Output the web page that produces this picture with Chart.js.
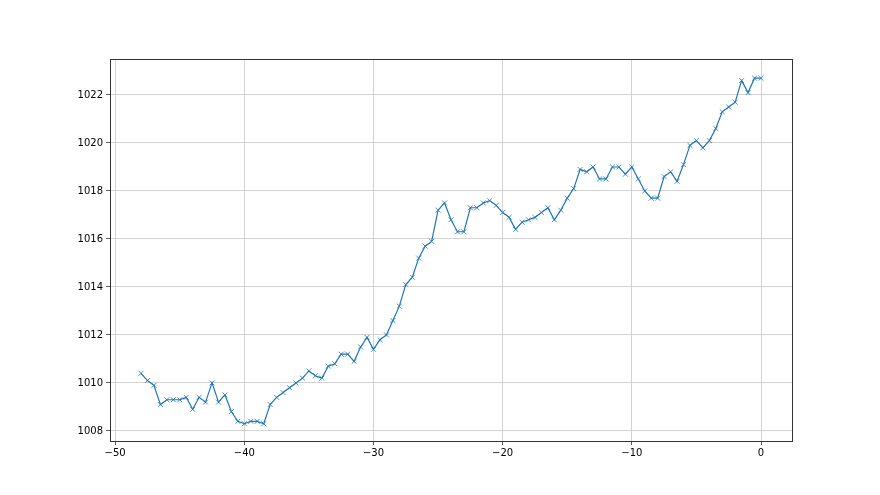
<!DOCTYPE html>
<html>
<head>
<meta charset="utf-8">
<script src="https://cdn.jsdelivr.net/npm/chart.js@4"></script>
<style>
  html, body { margin: 0; padding: 0; background: #fff; }
  #wrap { width: 880px; height: 495px; }
</style>
</head>
<body>
<div id="wrap"><canvas id="myChart" width="880" height="495"></canvas></div>
<script>
// hours relative to now
const hours = [
  -48, -47.5, -47, -46.5, -46, -45.5, -45, -44.5, -44, -43.5,
  -43, -42.5, -42, -41.5, -41, -40.5, -40, -39.5, -39, -38.5,
  -38, -37.5, -37, -36.5, -36, -35.5, -35, -34.5, -34, -33.5,
  -33, -32.5, -32, -31.5, -31, -30.5, -30, -29.5, -29, -28.5,
  -28, -27.5, -27, -26.5, -26, -25.5, -25, -24.5, -24, -23.5,
  -23, -22.5, -22, -21.5, -21, -20.5, -20, -19.5, -19, -18.5,
  -18, -17.5, -17, -16.5, -16, -15.5, -15, -14.5, -14, -13.5,
  -13, -12.5, -12, -11.5, -11, -10.5, -10, -9.5, -9, -8.5,
  -8, -7.5, -7, -6.5, -6, -5.5, -5, -4.5, -4, -3.5,
  -3, -2.5, -2, -1.5, -1, -0.5, 0
];
// pressure (hPa)
const pressure = [
  1010.4, 1010.1, 1009.9, 1009.1, 1009.3, 1009.3, 1009.3, 1009.4, 1008.9, 1009.4,
  1009.2, 1010.0, 1009.2, 1009.5, 1008.8, 1008.4, 1008.3, 1008.4, 1008.4, 1008.3,
  1009.1, 1009.4, 1009.6, 1009.8, 1010.0, 1010.2, 1010.5, 1010.3, 1010.2, 1010.7,
  1010.8, 1011.2, 1011.2, 1010.9, 1011.5, 1011.9, 1011.4, 1011.8, 1012.0, 1012.6,
  1013.2, 1014.1, 1014.4, 1015.2, 1015.7, 1015.9, 1017.2, 1017.5, 1016.8, 1016.3,
  1016.3, 1017.3, 1017.3, 1017.5, 1017.6, 1017.4, 1017.1, 1016.9, 1016.4, 1016.7,
  1016.8, 1016.9, 1017.1, 1017.3, 1016.8, 1017.2, 1017.7, 1018.1, 1018.9, 1018.8,
  1019.0, 1018.5, 1018.5, 1019.0, 1019.0, 1018.7, 1019.0, 1018.5, 1018.0, 1017.7,
  1017.7, 1018.6, 1018.8, 1018.4, 1019.1, 1019.9, 1020.1, 1019.8, 1020.1, 1020.6,
  1021.3, 1021.5, 1021.7, 1022.6, 1022.1, 1022.7, 1022.7
];
const xTicks = [-50, -40, -30, -20, -10, 0];
const yTicks = [1008, 1010, 1012, 1014, 1016, 1018, 1020, 1022];

const blue = '#1f77b4';
const points = hours.map((h, i) => ({ x: h, y: pressure[i] }));

// box around the plot area (matplotlib spines)
const frame = {
  id: 'frame',
  afterDraw(chart) {
    const a = chart.chartArea;
    const c = chart.ctx;
    c.save();
    c.strokeStyle = '#333';
    c.lineWidth = 1;
    c.strokeRect(Math.round(a.left) + 0.5, Math.round(a.top) + 0.5,
      Math.round(a.right - a.left), Math.round(a.bottom - a.top));
    c.restore();
  }
};

const minus = v => String(v).replace('-', '\u2212');

new Chart(document.getElementById('myChart'), {
  type: 'line',
  data: {
    datasets: [{
      data: points,
      borderColor: blue,
      backgroundColor: blue,
      borderWidth: 1.2,
      pointStyle: 'crossRot',
      pointRadius: 3.5,
      pointBorderWidth: 0.8,
      pointBorderColor: blue,
      tension: 0,
      fill: false
    }]
  },
  options: {
    responsive: false,
    animation: false,
    layout: { padding: { left: 0, right: 88, top: 59, bottom: 0 } },
    plugins: { legend: { display: false }, tooltip: { enabled: false } },
    scales: {
      x: {
        type: 'linear',
        min: -50.4,
        max: 2.4,
        afterBuildTicks: s => { s.ticks = xTicks.map(v => ({ value: v })); },
        afterFit: s => { s.height = 54; },
        grid: { color: '#c8c8c8', lineWidth: 0.8, tickColor: '#333', tickLength: 4 },
        border: { color: '#333' },
        ticks: {
          color: '#000',
          padding: 2,
          maxRotation: 0,
          font: { family: 'DejaVu Sans', size: 10 },
          callback: v => minus(v)
        }
      },
      y: {
        type: 'linear',
        min: 1007.58,
        max: 1023.5,
        afterBuildTicks: s => { s.ticks = yTicks.map(v => ({ value: v })); },
        afterFit: s => { s.width = 110; },
        grid: { color: '#c8c8c8', lineWidth: 0.8, tickColor: '#333', tickLength: 4 },
        border: { color: '#333' },
        ticks: {
          color: '#000',
          padding: 3,
          font: { family: 'DejaVu Sans', size: 10 },
          callback: v => String(v)
        }
      }
    }
  },
  plugins: [frame]
});
</script>
</body>
</html>
